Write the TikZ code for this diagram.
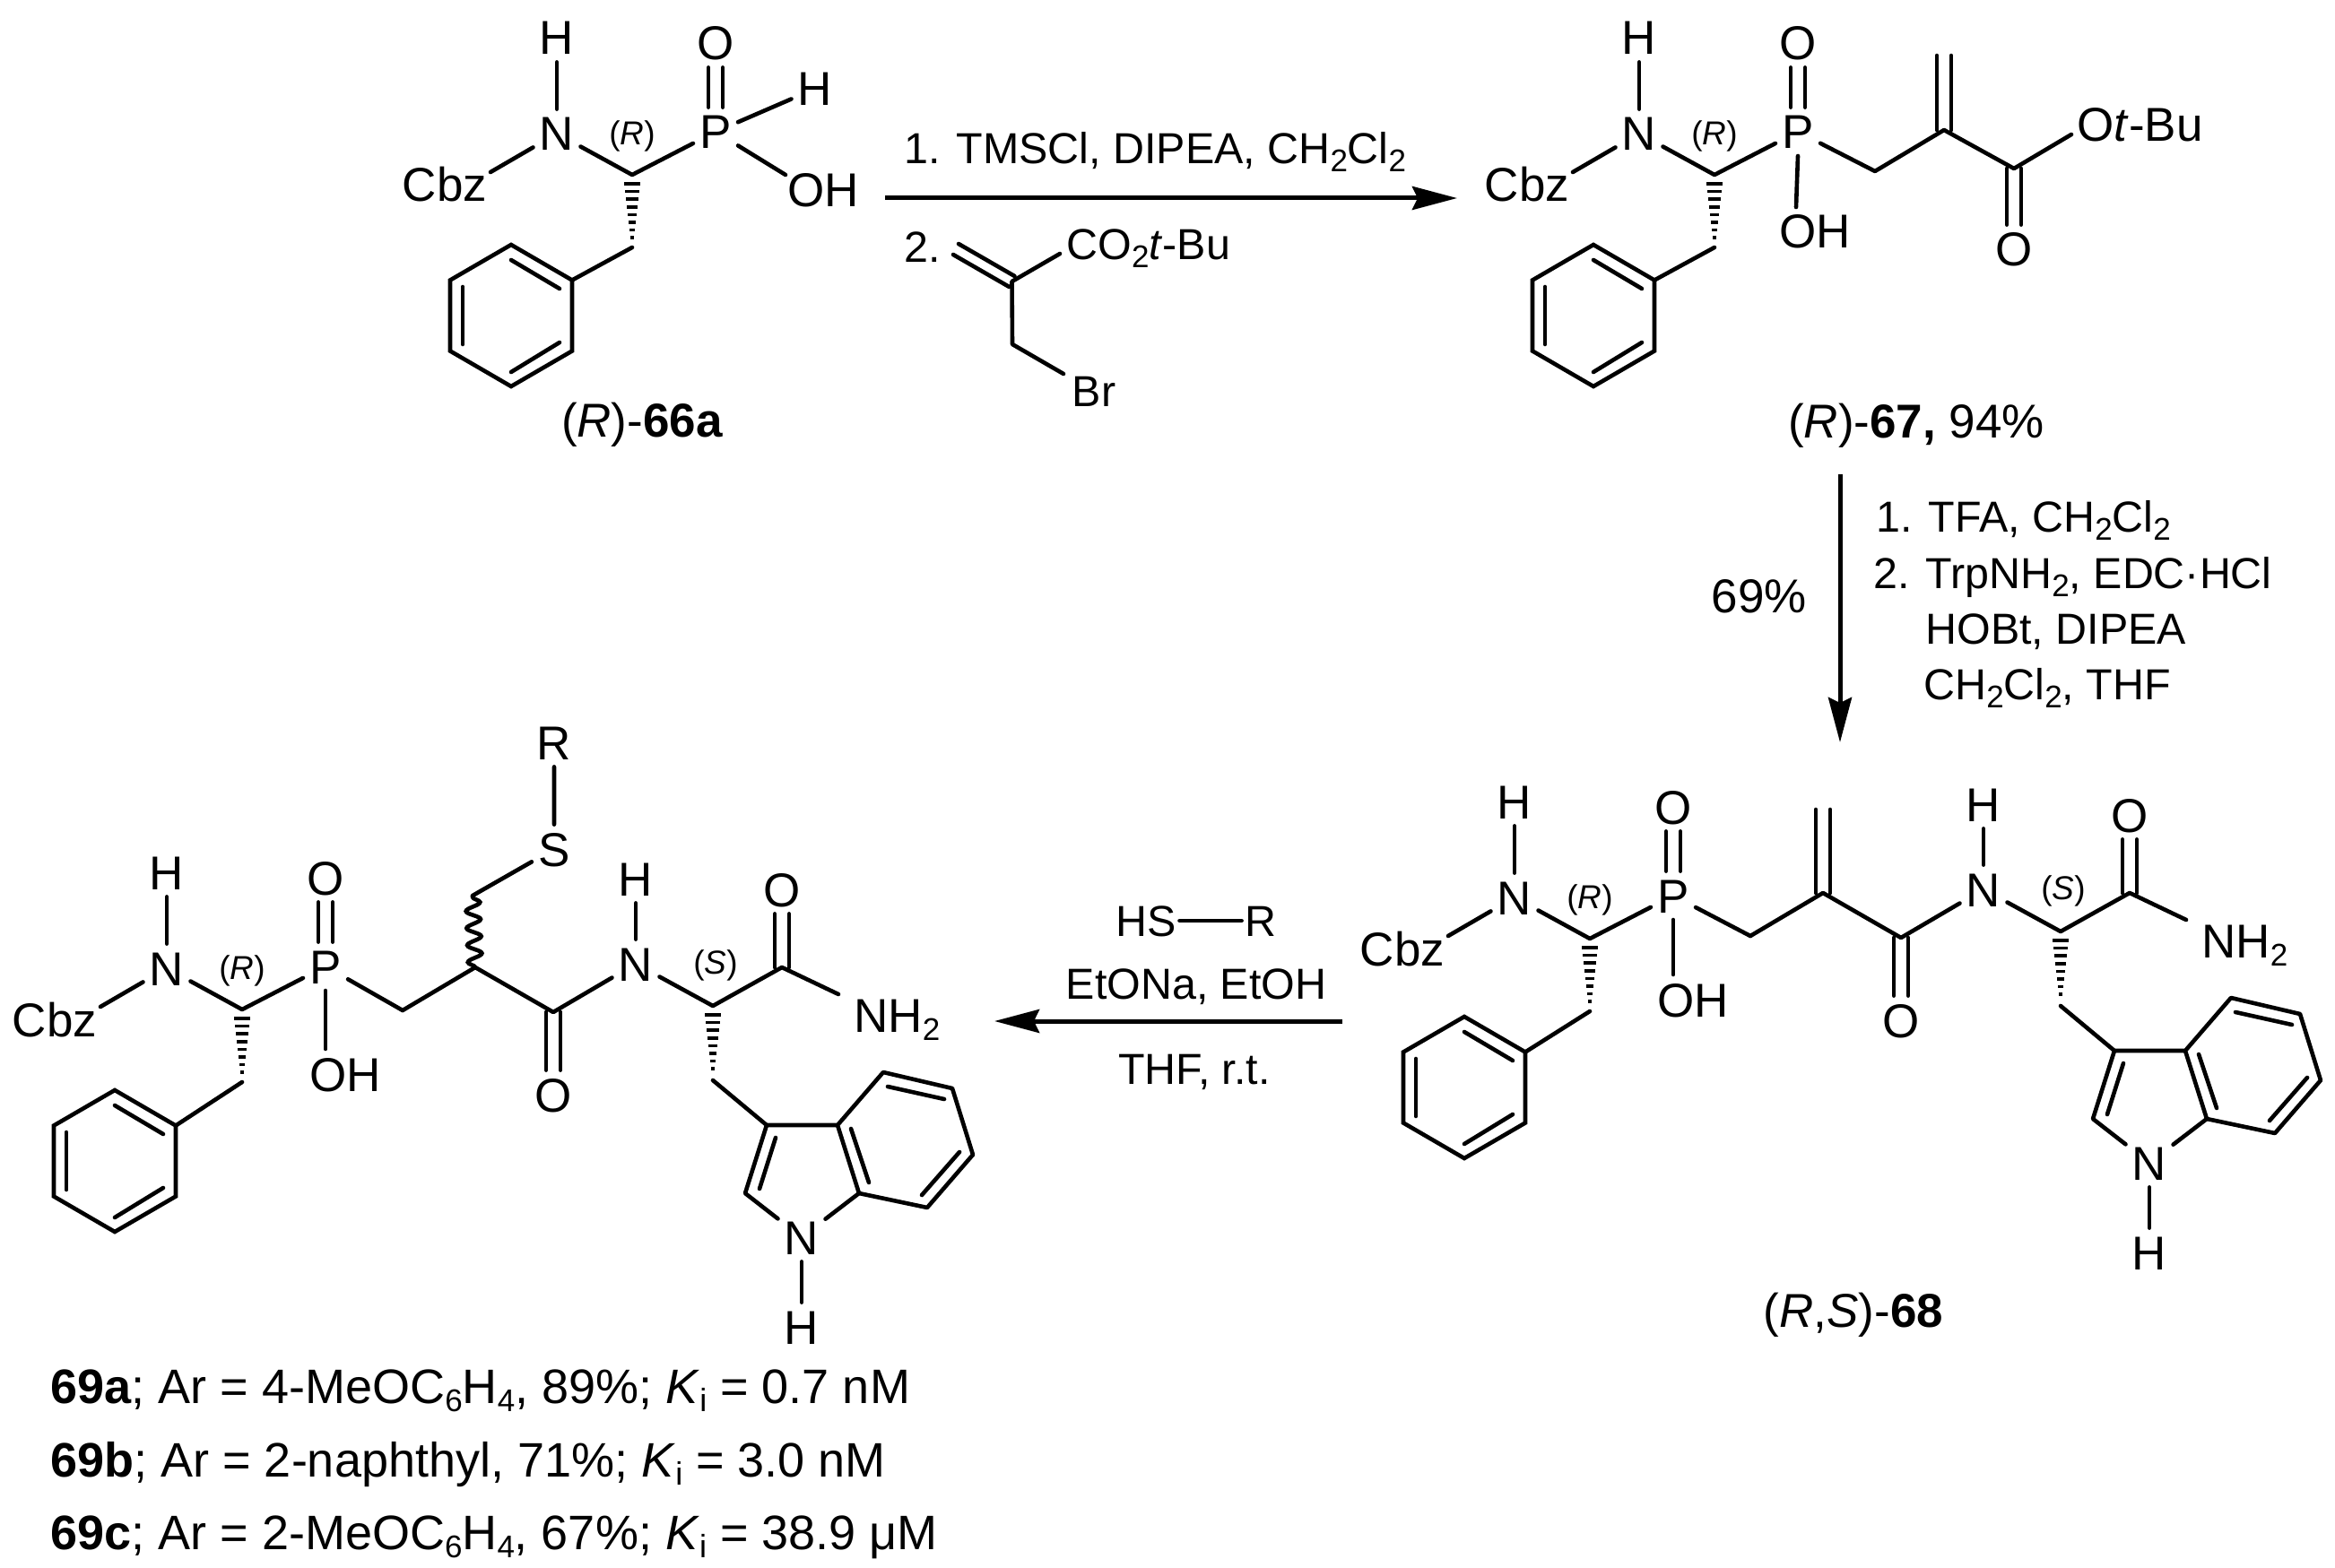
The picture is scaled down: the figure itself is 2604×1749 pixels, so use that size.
\documentclass[tikz,border=0pt]{standalone}
\usepackage{fontspec}
\setmainfont{Liberation Sans}
\usetikzlibrary{arrows.meta,decorations.pathmorphing}
\newcommand{\sbs}[1]{\raisebox{-4.5pt}{\fontsize{17.5pt}{17.5pt}\selectfont #1}}
\newcommand{\sbi}[1]{\raisebox{-4.5pt}{\fontsize{18pt}{18pt}\selectfont #1}}
\newcommand{\vdbl}[2]{\draw[bond] ([xshift=4pt]#1) -- ([xshift=4pt]#2); \draw[bond] ([xshift=-4pt]#1) -- ([xshift=-4pt]#2);}
\newcommand{\hashdown}[2]{\foreach \k in {0,...,7} {\draw[hashl] ({#1-9+\k},{#2+10+8.6*\k}) -- ({#1+9-\k},{#2+10+8.6*\k});}}
\tikzset{
  bond/.style={line width=2.3pt,line cap=round,line join=round},
  hashl/.style={line width=1.8pt},
  arrowline/.style={line width=2.5pt,-{Stealth[length=25pt,width=13pt,inset=3pt]}},
  atom/.style={inner xsep=3.5pt,inner ysep=4pt,text height=19pt,text depth=0pt,font=\fontsize{26.5pt}{30pt}\selectfont},
  lbl/.style={inner sep=0pt,text height=19pt,text depth=0pt,font=\fontsize{26.5pt}{30pt}\selectfont},
  rgt/.style={inner sep=0pt,text height=17.2pt,text depth=0pt,font=\fontsize{24.2pt}{28pt}\selectfont},
  rgtatom/.style={rgt,inner sep=1.75pt},
  big/.style={inner sep=0pt,text height=19.3pt,text depth=0pt,font=\fontsize{27pt}{30pt}\selectfont},
  stereo/.style={inner sep=0pt,text height=13.2pt,text depth=0pt,font=\fontsize{18.5pt}{20pt}\selectfont},
  head/.pic={
    \node[atom] (-N) at (621,149) {N};
    \node[atom] (-H) at (621,42) {H};
    \node[lbl] (-Cbz) at (496,206) {Cbz};
    \coordinate (-Cbzb) at (547,192);
    \coordinate (-C) at (705,195);
    \coordinate (-CH) at (705,276);
    \node[atom] (-P) at (798,147) {P};
    \node[atom] (-O) at (798,48) {O};
    \node[stereo] (-st) at (705,148) {(\textit{R})};
    \draw[bond] (-H) -- (-N);
    \draw[bond] (-N) -- (-Cbzb);
    \draw[bond] (-N) -- (-C) -- (-P);
    \vdbl{-O.south}{-P.north}
    \hashdown{705}{195}
  },
  benzring/.pic={
    \coordinate (-T) at (0,-79);
    \coordinate (-UR) at (68,-39.5);
    \coordinate (-LR) at (68,39.5);
    \coordinate (-B) at (0,79);
    \coordinate (-LL) at (-68,39.5);
    \coordinate (-UL) at (-68,-39.5);
    \draw[line width=2.3pt,line join=miter] (-T) -- (-UR) -- (-LR) -- (-B) -- (-LL) -- (-UL) -- cycle;
    \draw[bond] (0,-62) -- (54,-30);
    \draw[bond] (-54,-32) -- (-54,32);
    \draw[bond] (0,63) -- (54,30);
  },
  amide/.pic={
    \coordinate (-Cb) at (1952,1044);
    \coordinate (-Cq) at (2033,996);
    \coordinate (-CO) at (2120,1046);
    \node[atom] (-O) at (2120,1138) {O};
    \node[atom] (-N) at (2212,992) {N};
    \node[atom] (-H) at (2212,897) {H};
    \coordinate (-Cs) at (2298,1039);
    \node[stereo] (-st) at (2301,990) {(\textit{S})};
    \coordinate (-Ca) at (2375,996);
    \node[atom] (-Oa) at (2375,909) {O};
    \node[lbl,anchor=west] (-NH) at (2455,1049) {NH\sbs{2}};
    \coordinate (-NHb) at (2438,1026);
    \coordinate (-Cc) at (2298,1122);
    \coordinate (-OHb) at (1866,1087);
    \node[lbl] (-OH) at (1888,1115) {OH};
    \coordinate (-C3) at (2358,1172);
    \coordinate (-C3a) at (2437,1172);
    \coordinate (-C2) at (2334,1248);
    \node[atom] (-Ni) at (2397,1297) {N};
    \node[atom] (-Hi) at (2397,1397) {H};
    \coordinate (-C7a) at (2461,1248);
    \coordinate (-C4) at (2488,1113);
    \coordinate (-C5) at (2565,1131);
    \coordinate (-C6) at (2588,1205);
    \coordinate (-C7) at (2537,1264);
    \vdbl{-O.north}{-CO}
    \vdbl{-Oa.south}{-Ca}
    \draw[bond] (-Cb) -- (-Cq) -- (-CO) -- (-N);
    \draw[bond] (-H) -- (-N);
    \draw[bond] (-N) -- (-Cs) -- (-Ca) -- (-NHb);
    \hashdown{2298}{1039}
    \draw[bond] (-Cc) -- (-C3) -- (-C3a) -- (-C4) -- (-C5) -- (-C6) -- (-C7) -- (-C7a) -- (-C3a);
    \draw[bond] (-C3) -- (-C2) -- (-Ni) -- (-C7a);
    \draw[bond] (-Ni) -- (-Hi);
    \draw[bond] (2368,1186) -- (2350,1243);
    \draw[bond] (2452,1176) -- (2472,1236);
    \draw[bond] (2493,1129) -- (2556,1143);
    \draw[bond] (2573,1202) -- (2531,1250);
  }
}
\begin{document}
\begin{tikzpicture}[x=0.5pt,y=-0.5pt]
\path[use as bounding box,fill=white] (0,0) rectangle (2604,1749);
% ---- 66a
\pic (A) at (0,0) {head};
\pic (AR) at (570,352) {benzring};
\draw[bond] (A-CH) -- (AR-UR);
\node[atom] (AH) at (909,99) {H};
\draw[bond] (A-P) -- (AH);
\node[lbl] (AOH) at (918,212) {OH};
\coordinate (AOHb) at (876,195);
\draw[bond] (A-P) -- (AOHb);
\node[lbl] (Alab) at (716,469) {(\textit{R})-\textbf{66a}};
% ---- arrow 1 and reagents
\coordinate (a1s) at (987,221);
\coordinate (a1e) at (1625,221);
\draw[arrowline] (a1s) -- (a1e);
\node[rgt,anchor=west] (r1) at (1008,165) {1. TMSCl, DIPEA, CH\sbs{2}Cl\sbs{2}};
\node[rgt,anchor=west] (r2) at (1008,275) {2.};
\node[rgt,anchor=west] (rco) at (1189,272) {CO\sbs{2}\textit{t}-Bu};
\node[rgt] (rbr) at (1220,436) {Br};
\coordinate (rv) at (1066,278);
\coordinate (rc) at (1128.5,314);
\coordinate (rcob) at (1182,283);
\coordinate (rd) at (1129,384);
\coordinate (rbrb) at (1186,417);
\draw[bond] ([shift={(1.5pt,3pt)}]rv) -- ([shift={(1.5pt,3pt)}]rc);
\draw[bond] ([shift={(-1.5pt,-3pt)}]rv) -- ([shift={(-1.5pt,-3pt)}]rc);
\draw[bond] (rcob) -- (rc) -- (rd) -- (rbrb);
% ---- 67
\pic (E) at (1207,0) {head};
\pic (ER) at (1777,352) {benzring};
\draw[bond] (E-CH) -- (ER-UR);
\node[lbl] (EOH) at (2024,258) {OH};
\coordinate (EOHb) at (2003,231);
\draw[bond] (E-P.center) ++(0,27) -- (EOHb);
\coordinate (Eb) at (2091,191);
\coordinate (Eq) at (2168,145);
\coordinate (Et) at (2168,62);
\coordinate (Ec) at (2246,188);
\node[atom] (EO) at (2246,278) {O};
\node[lbl,anchor=west] (EOt) at (2316,139) {O\textit{t}-Bu};
\coordinate (EOb) at (2310,150);
\vdbl{Et}{Eq}
\vdbl{EO.north}{Ec}
\draw[bond] (E-P) -- (Eb) -- (Eq) -- (Ec) -- (EOb);
\node[lbl] (Elab) at (2137,470) {(\textit{R})-\textbf{67,} 94\%};
% ---- arrow 2
\coordinate (a2s) at (2052,529);
\coordinate (a2e) at (2052,828);
\draw[arrowline] (a2s) -- (a2e);
\node[lbl] (y69) at (1962,664) {69\%};
\node[rgt,anchor=west] (s1) at (2092,576) {1. TFA, CH\sbs{2}Cl\sbs{2}};
\node[rgt,anchor=west] (s2) at (2089,639) {2. TrpNH\sbs{2}, EDC·HCl};
\node[rgt,anchor=west] (s3) at (2147,701) {HOBt, DIPEA};
\node[rgt,anchor=west] (s4) at (2145,763) {CH\sbs{2}Cl\sbs{2}, THF};
% ---- 68
\pic (B) at (1068,852) {head};
\pic (BR) at (1633,1213) {benzring};
\pic (BM) at (0,0) {amide};
\draw[bond] (B-CH) -- (BR-UR);
\draw[bond] (B-P.center) ++(0,27) -- (BM-OHb);
\draw[bond] (B-P) -- (BM-Cb);
\coordinate (Bt) at (2033,903);
\vdbl{Bt}{BM-Cq}
\node[lbl] (Blab) at (2067,1461) {(\textit{R},\textit{S})-\textbf{68}};
% ---- arrow 3
\coordinate (a3s) at (1497,1139);
\coordinate (a3e) at (1109,1139);
\draw[arrowline] (a3s) -- (a3e);
\node[rgtatom] (tHS) at (1278,1027) {HS};
\node[rgtatom] (tR) at (1406,1027) {R};
\draw[bond] (tHS) -- (tR);
\node[rgt] (t2) at (1334,1097) {EtONa, EtOH};
\node[rgt] (t3) at (1332,1192) {THF, r.t.};
% ---- 69
\pic (C) at (-435,931) {head};
\pic (CR) at (128,1295) {benzring};
\pic (CM) at (-1503,83) {amide};
\draw[bond] (C-CH) -- (CR-UR);
\draw[bond] (C-P.center) ++(0,27) -- (CM-OHb);
\draw[bond] (C-P) -- (CM-Cb);
\node[atom] (CS) at (618,947) {S};
\node[atom] (CRr) at (618,828) {R};
\coordinate (CCS) at (527,999);
\draw[bond] (CRr) -- (CS) -- (CCS);
\draw[line width=2.3pt,decorate,decoration={snake,segment length=9.5pt,amplitude=4pt}] (CM-Cq) -- (CCS);
\node[big,anchor=west] (l1) at (56,1546) {\textbf{69a}; Ar = 4-MeOC\sbs{6}H\sbs{4}, 89\%; \textit{K}\sbi{i} = 0.7 nM};
\node[big,anchor=west] (l2) at (56,1628) {\textbf{69b}; Ar = 2-naphthyl, 71\%; \textit{K}\sbi{i} = 3.0 nM};
\node[big,anchor=west] (l3) at (56,1709) {\textbf{69c}; Ar = 2-MeOC\sbs{6}H\sbs{4}, 67\%; \textit{K}\sbi{i} = 38.9 μM};
\end{tikzpicture}
\end{document}
